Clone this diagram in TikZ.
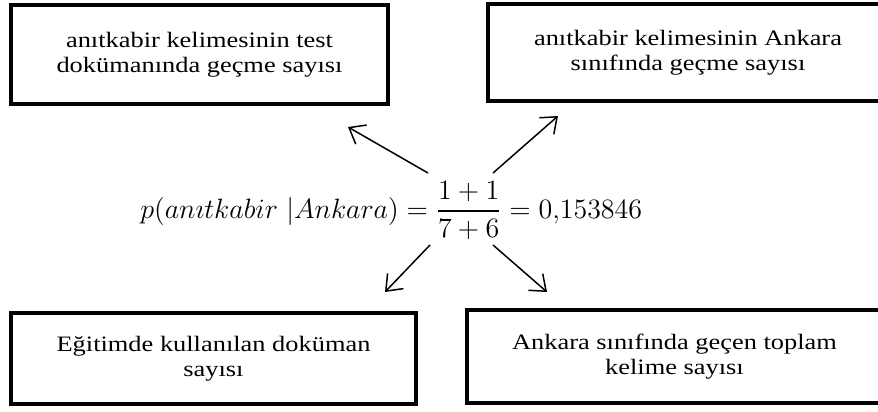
\RequirePackage{fix-cm}
\documentclass[tikz,border=0pt]{standalone}
\usepackage{amsmath}
\usepackage[no-math]{fontspec}
\setmainfont{Liberation Serif}[FakeStretch=1.2]
\usetikzlibrary{arrows.meta}

\tikzset{
  kutu/.style={draw, line width=2pt, align=center, inner sep=0pt,
    font=\fontsize{11}{12.5}\selectfont},
  ok/.style={-{Straight Barb[length=7pt,width=11pt]}, line width=0.75pt}
}

\begin{document}
\begin{tikzpicture}[x=0.5pt, y=-0.5pt]
    \useasboundingbox (0,0) rectangle (878,412);
    % boxes
    \node[kutu, minimum width=188.5pt, minimum height=49.5pt] (test) at (199.5,54.5) {an\i tkabir kelimesinin test\\dokümanında geçme sayısı};
    \node[kutu, minimum width=200pt, minimum height=48.5pt] (sinif) at (688,52.5) {an\i tkabir kelimesinin Ankara\\sınıfında geçme sayısı};
    \node[kutu, minimum width=202.5pt, minimum height=45.5pt] (egitim) at (213.5,358.5) {Eğitimde kullanılan doküman\\sayısı};
    \node[kutu, minimum width=207.5pt, minimum height=46.5pt] (toplam) at (674.5,356.5) {Ankara sınıfında geçen toplam\\kelime sayısı};
    % formula
    \node[anchor=base west, inner sep=0pt, font=\fontsize{14}{16}\selectfont] (formul) at (140,218)
      {$p(an\imath tkabir\ |Ankara)=\dfrac{1+1}{7+6}=0{,}153846$};
    % arrow ends
    \coordinate (u1) at (428,173); \coordinate (t1) at (348,127);
    \coordinate (u2) at (493,173); \coordinate (t2) at (558,116);
    \coordinate (u3) at (430,245); \coordinate (t3) at (385,292);
    \coordinate (u4) at (493,245); \coordinate (t4) at (547,292);
    % arrows
    \draw[ok] (u1) -- (t1);
    \draw[ok] (u2) -- (t2);
    \draw[ok] (u3) -- (t3);
    \draw[ok] (u4) -- (t4);
\end{tikzpicture}
\end{document}
